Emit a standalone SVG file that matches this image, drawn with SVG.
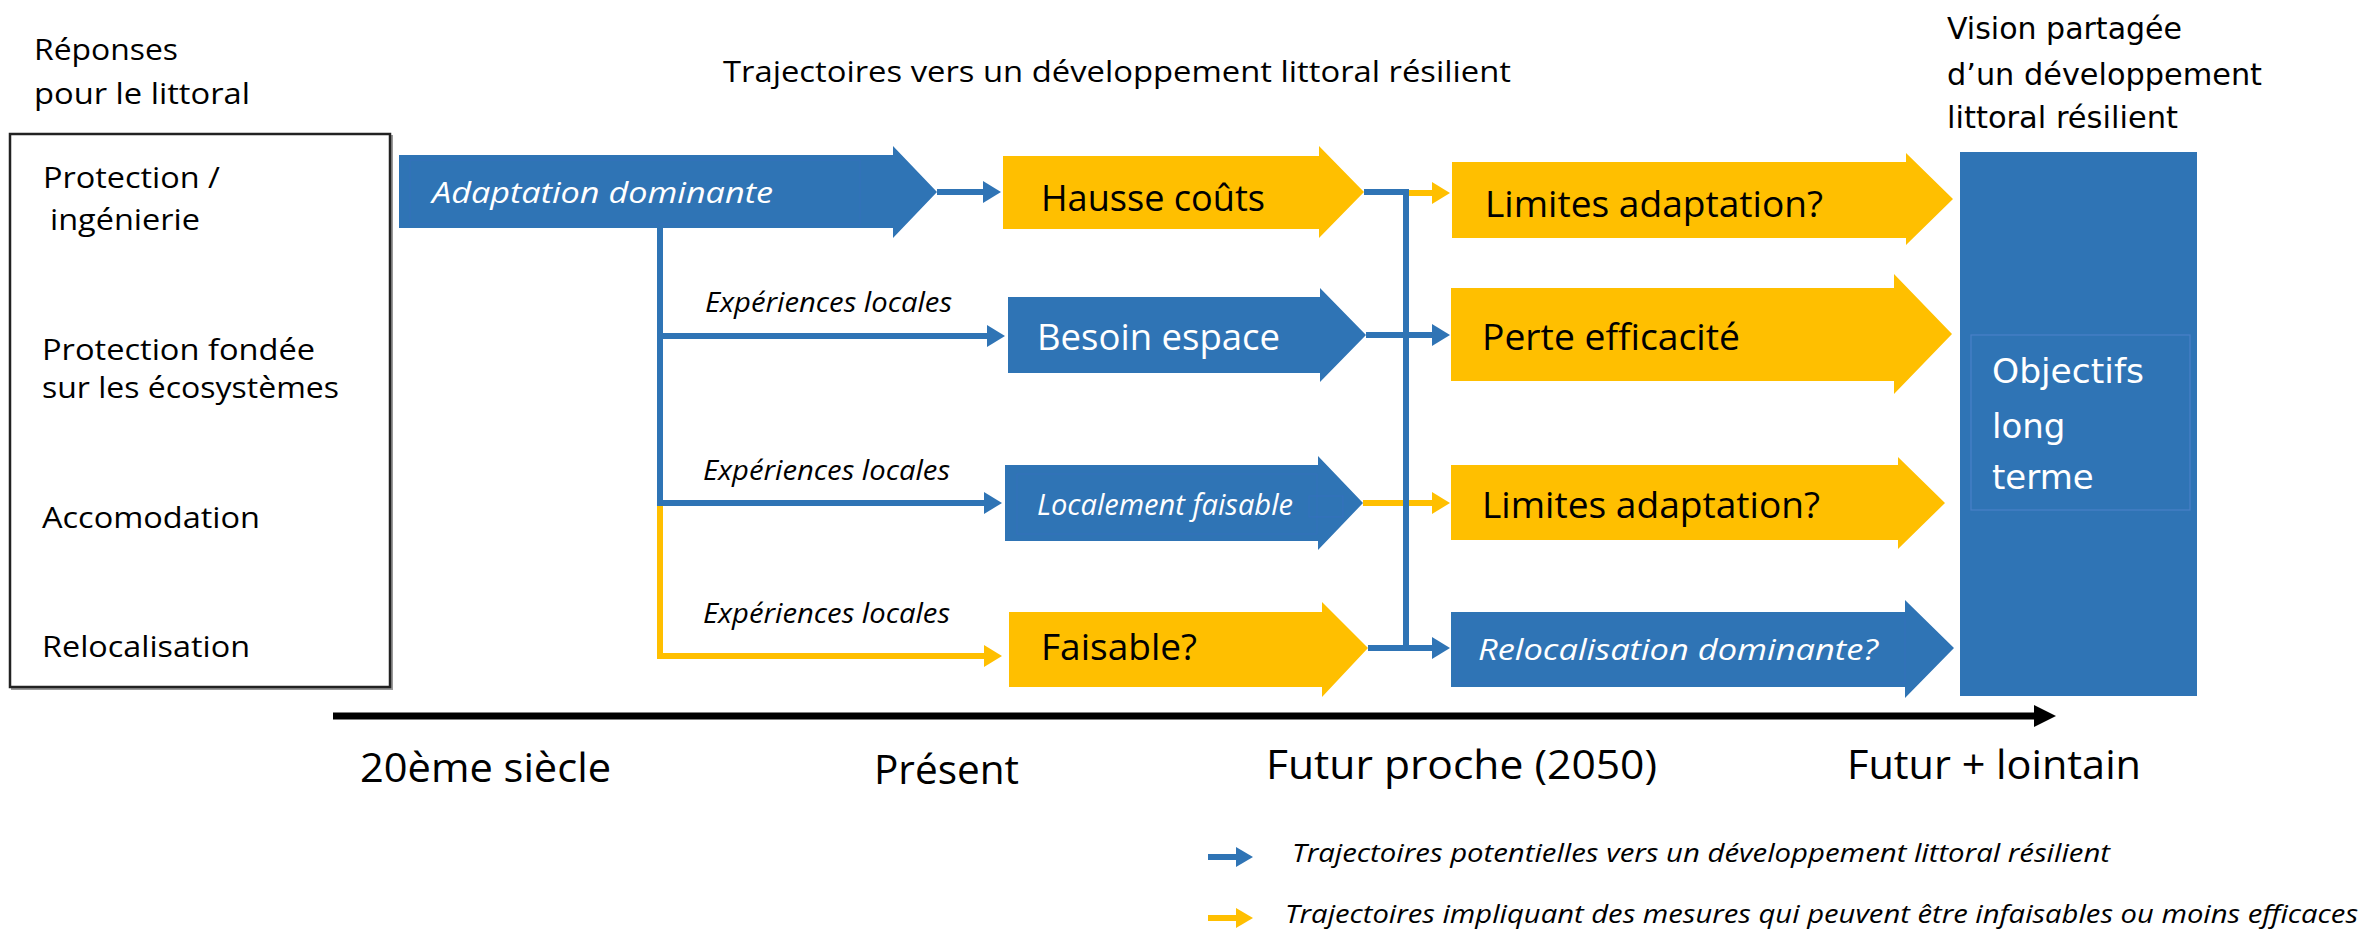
<svg xmlns="http://www.w3.org/2000/svg" width="2364" height="936" viewBox="0 0 2364 936">
  <style>
    .t { font-family: "Open Sans", "Liberation Sans", sans-serif; fill: #000; }
    .it { font-style: italic; }
    .w { fill: #fff; }
    .v { font-family: "DejaVu Sans", Verdana, sans-serif; }
    .blue { fill: #2F74B5; }
    .yellow { fill: #FFBF00; }
    .cb { fill: none; stroke: #2F74B5; stroke-width: 6; stroke-linejoin: miter; }
    .cy { fill: none; stroke: #FFBF00; stroke-width: 6; stroke-linejoin: miter; }
  </style>
  <defs>
    <marker id="ab" markerUnits="userSpaceOnUse" markerWidth="18" markerHeight="22" refX="6" refY="11" orient="auto">
      <path d="M0,0 L18,11 L0,22 z" fill="#2F74B5"/>
    </marker>
    <marker id="ay" markerUnits="userSpaceOnUse" markerWidth="18" markerHeight="22" refX="6" refY="11" orient="auto">
      <path d="M0,0 L18,11 L0,22 z" fill="#FFBF00"/>
    </marker>
  </defs>

  <rect width="2364" height="936" fill="#fff"/>

  <!-- headings -->
  <g id="headings">
    <text class="t" x="34" y="60" font-size="30" textLength="144" lengthAdjust="spacingAndGlyphs">Réponses</text>
    <text class="t" x="34" y="104" font-size="30" textLength="216" lengthAdjust="spacingAndGlyphs">pour le littoral</text>
    <text class="t" x="723" y="82" font-size="29" textLength="788" lengthAdjust="spacingAndGlyphs">Trajectoires vers un développement littoral résilient</text>
    <text class="t v" x="1947" y="39" font-size="30" textLength="235" lengthAdjust="spacingAndGlyphs">Vision partagée</text>
    <text class="t v" x="1947" y="85" font-size="30" textLength="315" lengthAdjust="spacingAndGlyphs">d’un développement</text>
    <text class="t v" x="1947" y="128" font-size="30" textLength="231" lengthAdjust="spacingAndGlyphs">littoral résilient</text>
  </g>

  <!-- responses box -->
  <g id="responses">
    <rect x="12" y="136" width="380" height="553" fill="none" stroke="#999" stroke-width="2"/>
    <rect x="10" y="134" width="380" height="553" fill="#fff" stroke="#222" stroke-width="2.5"/>
    <text class="t" x="43" y="188" font-size="30" textLength="177" lengthAdjust="spacingAndGlyphs">Protection /</text>
    <text class="t" x="50" y="230" font-size="30" textLength="150" lengthAdjust="spacingAndGlyphs">ingénierie</text>
    <text class="t" x="42" y="360" font-size="30" textLength="273" lengthAdjust="spacingAndGlyphs">Protection fondée</text>
    <text class="t" x="42" y="398" font-size="30" textLength="297" lengthAdjust="spacingAndGlyphs">sur les écosystèmes</text>
    <text class="t" x="42" y="528" font-size="30" textLength="218" lengthAdjust="spacingAndGlyphs">Accomodation</text>
    <text class="t" x="42" y="657" font-size="30" textLength="208" lengthAdjust="spacingAndGlyphs">Relocalisation</text>
  </g>

  <!-- connectors -->
  <g id="connectors">
    <path class="cb" d="M937,192 H989" marker-end="url(#ab)"/>
    <path class="cb" d="M660,228 V506"/>
    <path class="cb" d="M660,336 H993" marker-end="url(#ab)"/>
    <path class="cb" d="M660,503 H990" marker-end="url(#ab)"/>
    <path class="cy" d="M660,506 V656 H990" marker-end="url(#ay)"/>
    <path class="cy" d="M1409,193 H1438" marker-end="url(#ay)"/>
    <path class="cb" d="M1366,335 H1438" marker-end="url(#ab)"/>
    <path class="cy" d="M1363,503 H1438" marker-end="url(#ay)"/>
    <path class="cb" d="M1368,648 H1438" marker-end="url(#ab)"/>
    <path class="cb" d="M1364,192 H1406 V651"/>
  </g>

  <!-- pathway arrows -->
  <g id="adaptation-dominante">
    <polygon class="blue" points="399,155 893,155 893,146 937,192 893,238 893,228 399,228"/>
    <rect x="410" y="160" width="450" height="64" fill="none" stroke="#3A6EC4" stroke-width="1" opacity="0.5"/>
    <text class="t it w" x="432" y="203" font-size="30" textLength="341" lengthAdjust="spacingAndGlyphs">Adaptation dominante</text>
  </g>
  <g id="hausse-couts">
    <polygon class="yellow" points="1003,156 1319,156 1319,146 1364,192 1319,238 1319,229 1003,229"/>
    <text class="t" x="1041" y="211" font-size="37" textLength="224" lengthAdjust="spacingAndGlyphs">Hausse coûts</text>
  </g>
  <g id="limites-adaptation-1">
    <polygon class="yellow" points="1452,162 1906,162 1906,153 1953,199 1906,245 1906,238 1452,238"/>
    <text class="t" x="1485" y="217" font-size="37" textLength="338" lengthAdjust="spacingAndGlyphs">Limites adaptation?</text>
  </g>
  <g id="experiences-1">
    <text class="t it" x="705" y="312" font-size="27" textLength="247" lengthAdjust="spacingAndGlyphs">Expériences locales</text>
  </g>
  <g id="besoin-espace">
    <polygon class="blue" points="1008,297 1320,297 1320,288 1366,335 1320,382 1320,373 1008,373"/>
    <text class="t w" x="1037" y="350" font-size="37" textLength="243" lengthAdjust="spacingAndGlyphs">Besoin espace</text>
  </g>
  <g id="perte-efficacite">
    <polygon class="yellow" points="1451,288 1894,288 1894,274 1952,334 1894,394 1894,381 1451,381"/>
    <text class="t" x="1482" y="350" font-size="37" textLength="258" lengthAdjust="spacingAndGlyphs">Perte efficacité</text>
  </g>
  <g id="experiences-2">
    <text class="t it" x="703" y="480" font-size="27" textLength="247" lengthAdjust="spacingAndGlyphs">Expériences locales</text>
  </g>
  <g id="localement-faisable">
    <polygon class="blue" points="1005,465 1318,465 1318,456 1363,503 1318,550 1318,541 1005,541"/>
    <rect x="1017" y="474" width="300" height="60" fill="none" stroke="#3A6EC4" stroke-width="1" opacity="0.5"/>
    <rect x="1309" y="496" width="34" height="21" fill="none" stroke="#3A6EC4" stroke-width="1" opacity="0.6"/>
    <text class="t it w" x="1037" y="515" font-size="29" textLength="256" lengthAdjust="spacingAndGlyphs">Localement faisable</text>
  </g>
  <g id="limites-adaptation-2">
    <polygon class="yellow" points="1451,465 1898,465 1898,457 1945,503 1898,549 1898,540 1451,540"/>
    <text class="t" x="1482" y="518" font-size="37" textLength="338" lengthAdjust="spacingAndGlyphs">Limites adaptation?</text>
  </g>
  <g id="experiences-3">
    <text class="t it" x="703" y="623" font-size="27" textLength="247" lengthAdjust="spacingAndGlyphs">Expériences locales</text>
  </g>
  <g id="faisable">
    <polygon class="yellow" points="1009,612 1322,612 1322,602 1368,648 1322,697 1322,687 1009,687"/>
    <text class="t" x="1041" y="660" font-size="37" textLength="156" lengthAdjust="spacingAndGlyphs">Faisable?</text>
  </g>
  <g id="relocalisation-dominante">
    <polygon class="blue" points="1451,612 1905,612 1905,600 1954,648 1905,698 1905,687 1451,687"/>
    <rect x="1457" y="617" width="448" height="66" fill="none" stroke="#3A6EC4" stroke-width="1" opacity="0.5"/>
    <text class="t it w" x="1478" y="660" font-size="30" textLength="400" lengthAdjust="spacingAndGlyphs">Relocalisation dominante?</text>
  </g>

  <!-- long-term goal -->
  <g id="objectifs">
    <rect class="blue" x="1960" y="152" width="237" height="544"/>
    <rect x="1971" y="335" width="219" height="175" fill="none" stroke="#4A80C8" stroke-width="1.2"/>
    <text class="t v w" x="1992" y="383" font-size="34" textLength="152" lengthAdjust="spacingAndGlyphs">Objectifs</text>
    <text class="t v w" x="1992" y="438" font-size="34">long</text>
    <text class="t v w" x="1992" y="489" font-size="34">terme</text>
  </g>

  <!-- time axis -->
  <g id="timeline">
    <path d="M333,716 H2040" stroke="#000" stroke-width="7" fill="none"/>
    <polygon points="2034,705 2056,716 2034,727" fill="#000"/>
    <text class="t" x="360" y="782" font-size="41" textLength="251" lengthAdjust="spacingAndGlyphs">20ème siècle</text>
    <text class="t" x="874" y="784" font-size="41" textLength="145" lengthAdjust="spacingAndGlyphs">Présent</text>
    <text class="t" x="1266" y="779" font-size="41" textLength="391" lengthAdjust="spacingAndGlyphs">Futur proche (2050)</text>
    <text class="t" x="1847" y="779" font-size="41" textLength="294" lengthAdjust="spacingAndGlyphs">Futur + lointain</text>
  </g>

  <!-- legend -->
  <g id="legend">
    <path d="M1208,857 H1240" stroke="#2F74B5" stroke-width="6" fill="none"/>
    <polygon points="1236,847 1253,857 1236,867" fill="#2F74B5"/>
    <text class="t it" x="1292" y="862" font-size="26" textLength="818" lengthAdjust="spacingAndGlyphs">Trajectoires potentielles vers un développement littoral résilient</text>
    <path d="M1208,918 H1240" stroke="#FFBF00" stroke-width="6" fill="none"/>
    <polygon points="1236,908 1253,918 1236,928" fill="#FFBF00"/>
    <text class="t it" x="1285" y="923" font-size="26" textLength="1073" lengthAdjust="spacingAndGlyphs">Trajectoires impliquant des mesures qui peuvent être infaisables ou moins efficaces</text>
  </g>
</svg>
